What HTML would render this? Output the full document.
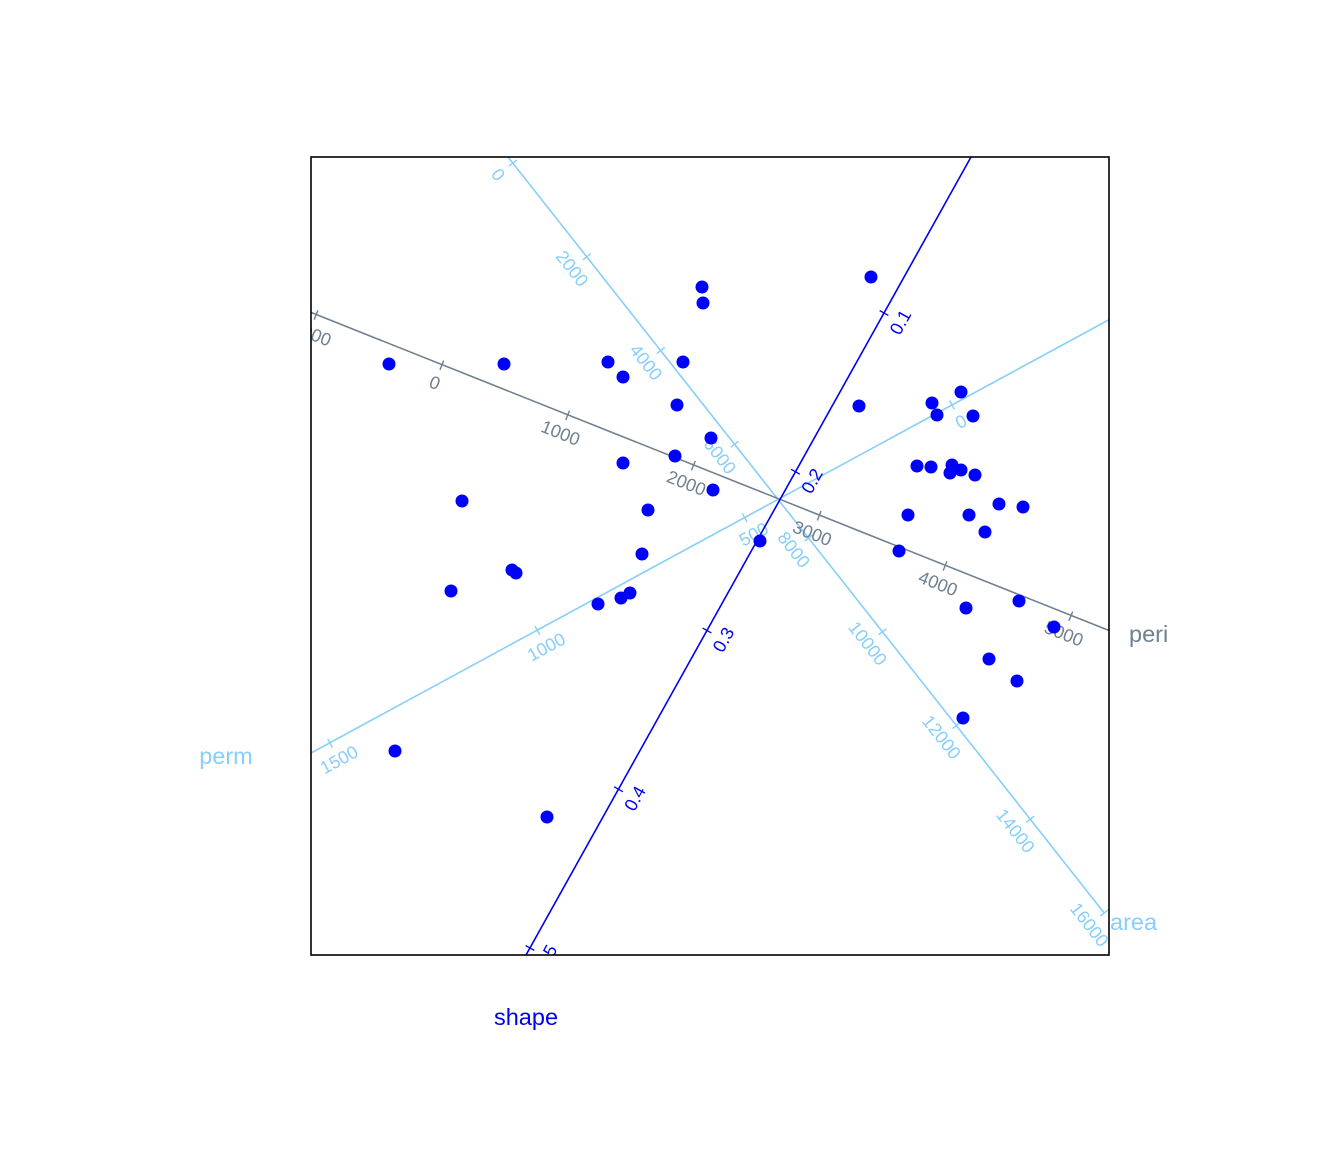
<!DOCTYPE html>
<html><head><meta charset="utf-8"><style>
html,body{margin:0;padding:0;background:#fff}
svg{display:block;font-family:"Liberation Sans",sans-serif}
</style></head><body>
<svg width="1344" height="1152" viewBox="0 0 1344 1152" xmlns="http://www.w3.org/2000/svg">
<defs><clipPath id="c"><rect x="311" y="157" width="798" height="798"/></clipPath></defs>
<g clip-path="url(#c)" font-size="18" text-anchor="middle" dominant-baseline="central">
<!-- area -->
<g stroke="#87CEFA" stroke-width="1.6"><line x1="508" y1="157" x2="1104.2" y2="913"/></g>
<g fill="#87CEFA" stroke="#87CEFA" stroke-width="1.4">
<g transform="translate(513,163) rotate(51.8)"><line x1="0" y1="-5" x2="0" y2="5"/><text y="19" stroke="none">0</text></g>
<g transform="translate(586.9,256.75) rotate(51.8)"><line x1="0" y1="-5" x2="0" y2="5"/><text y="19" stroke="none">2000</text></g>
<g transform="translate(660.8,350.5) rotate(51.8)"><line x1="0" y1="-5" x2="0" y2="5"/><text y="19" stroke="none">4000</text></g>
<g transform="translate(734.7,444.25) rotate(51.8)"><line x1="0" y1="-5" x2="0" y2="5"/><text y="19" stroke="none">6000</text></g>
<g transform="translate(808.6,538) rotate(51.8)"><line x1="0" y1="-5" x2="0" y2="5"/><text y="19" stroke="none">8000</text></g>
<g transform="translate(882.5,631.75) rotate(51.8)"><line x1="0" y1="-5" x2="0" y2="5"/><text y="19" stroke="none">10000</text></g>
<g transform="translate(956.4,725.5) rotate(51.8)"><line x1="0" y1="-5" x2="0" y2="5"/><text y="19" stroke="none">12000</text></g>
<g transform="translate(1030.3,819.25) rotate(51.8)"><line x1="0" y1="-5" x2="0" y2="5"/><text y="19" stroke="none">14000</text></g>
<g transform="translate(1104.2,913) rotate(51.8)"><line x1="0" y1="-5" x2="0" y2="5"/><text y="19" stroke="none">16000</text></g>
</g>
<!-- perm -->
<line x1="311" y1="753" x2="1109" y2="319.7" stroke="#87CEFA" stroke-width="1.6"/>
<g fill="#87CEFA" stroke="#87CEFA" stroke-width="1.4">
<g transform="translate(952,405) rotate(-28.4)"><line x1="0" y1="-5" x2="0" y2="5"/><text y="19" stroke="none">0</text></g>
<g transform="translate(744.7,517.7) rotate(-28.4)"><line x1="0" y1="-5" x2="0" y2="5"/><text y="19" stroke="none">500</text></g>
<g transform="translate(537.4,630.4) rotate(-28.4)"><line x1="0" y1="-5" x2="0" y2="5"/><text y="19" stroke="none">1000</text></g>
<g transform="translate(330.1,743.1) rotate(-28.4)"><line x1="0" y1="-5" x2="0" y2="5"/><text y="19" stroke="none">1500</text></g>
</g>
<!-- peri -->
<line x1="311" y1="312.4" x2="1109" y2="630.5" stroke="#708090" stroke-width="1.6"/>
<g fill="#708090" stroke="#708090" stroke-width="1.4">
<g transform="translate(316,315) rotate(21.7)"><line x1="0" y1="-5" x2="0" y2="5"/><text y="19" stroke="none">-1000</text></g>
<g transform="translate(441.8,365.2) rotate(21.7)"><line x1="0" y1="-5" x2="0" y2="5"/><text y="19" stroke="none">0</text></g>
<g transform="translate(567.6,415.4) rotate(21.7)"><line x1="0" y1="-5" x2="0" y2="5"/><text y="19" stroke="none">1000</text></g>
<g transform="translate(693.4,465.6) rotate(21.7)"><line x1="0" y1="-5" x2="0" y2="5"/><text y="19" stroke="none">2000</text></g>
<g transform="translate(819.2,515.8) rotate(21.7)"><line x1="0" y1="-5" x2="0" y2="5"/><text y="19" stroke="none">3000</text></g>
<g transform="translate(945,566) rotate(21.7)"><line x1="0" y1="-5" x2="0" y2="5"/><text y="19" stroke="none">4000</text></g>
<g transform="translate(1070.8,616.2) rotate(21.7)"><line x1="0" y1="-5" x2="0" y2="5"/><text y="19" stroke="none">5000</text></g>
</g>
<!-- shape -->
<line x1="971" y1="157" x2="526" y2="955" stroke="#0000EE" stroke-width="1.6"/>
<g fill="#0000EE" stroke="#0000EE" stroke-width="1.4">
<g transform="translate(884,313) rotate(-60.9)"><line x1="0" y1="-5" x2="0" y2="5"/><text y="19" stroke="none">0.1</text></g>
<g transform="translate(795.5,471.75) rotate(-60.9)"><line x1="0" y1="-5" x2="0" y2="5"/><text y="19" stroke="none">0.2</text></g>
<g transform="translate(707,630.5) rotate(-60.9)"><line x1="0" y1="-5" x2="0" y2="5"/><text y="19" stroke="none">0.3</text></g>
<g transform="translate(618.5,789.25) rotate(-60.9)"><line x1="0" y1="-5" x2="0" y2="5"/><text y="19" stroke="none">0.4</text></g>
<g transform="translate(530,948) rotate(-60.9)"><line x1="0" y1="-5" x2="0" y2="5"/><text y="19" stroke="none">0.5</text></g>
</g>
<!-- points -->
<g fill="#0000FF">
<circle cx="389" cy="364" r="6.5"/><circle cx="504" cy="364" r="6.5"/><circle cx="608" cy="362" r="6.5"/><circle cx="623" cy="377" r="6.5"/><circle cx="683" cy="362" r="6.5"/><circle cx="702" cy="287" r="6.5"/><circle cx="703" cy="303" r="6.5"/><circle cx="871" cy="277" r="6.5"/><circle cx="677" cy="405" r="6.5"/><circle cx="711" cy="438" r="6.5"/><circle cx="623" cy="463" r="6.5"/><circle cx="675" cy="456" r="6.5"/><circle cx="713" cy="490" r="6.5"/><circle cx="462" cy="501" r="6.5"/><circle cx="648" cy="510" r="6.5"/><circle cx="642" cy="554" r="6.5"/><circle cx="512" cy="570" r="6.5"/><circle cx="516" cy="573" r="6.5"/><circle cx="451" cy="591" r="6.5"/><circle cx="598" cy="604" r="6.5"/><circle cx="621" cy="598" r="6.5"/><circle cx="630" cy="593" r="6.5"/><circle cx="760" cy="541" r="6.5"/><circle cx="395" cy="751" r="6.5"/><circle cx="547" cy="817" r="6.5"/><circle cx="859" cy="406" r="6.5"/><circle cx="932" cy="403" r="6.5"/><circle cx="937" cy="415" r="6.5"/><circle cx="961" cy="392" r="6.5"/><circle cx="973" cy="416" r="6.5"/><circle cx="917" cy="466" r="6.5"/><circle cx="931" cy="467" r="6.5"/><circle cx="952" cy="465" r="6.5"/><circle cx="950" cy="473" r="6.5"/><circle cx="961" cy="470" r="6.5"/><circle cx="975" cy="475" r="6.5"/><circle cx="908" cy="515" r="6.5"/><circle cx="969" cy="515" r="6.5"/><circle cx="999" cy="504" r="6.5"/><circle cx="1023" cy="507" r="6.5"/><circle cx="985" cy="532" r="6.5"/><circle cx="899" cy="551" r="6.5"/><circle cx="966" cy="608" r="6.5"/><circle cx="1019" cy="601" r="6.5"/><circle cx="1054" cy="627" r="6.5"/><circle cx="989" cy="659" r="6.5"/><circle cx="1017" cy="681" r="6.5"/><circle cx="963" cy="718" r="6.5"/>
</g>
</g>
<rect x="311" y="157" width="798" height="798" fill="none" stroke="#000" stroke-width="1.6"/>
<g font-size="23.5" dominant-baseline="central">
<text x="1129" y="634" fill="#708090">peri</text>
<text x="1110" y="922" fill="#87CEFA">area</text>
<text x="226" y="756" fill="#87CEFA" text-anchor="middle">perm</text>
<text x="526" y="1017" fill="#0000EE" text-anchor="middle">shape</text>
</g>
</svg>
</body></html>
